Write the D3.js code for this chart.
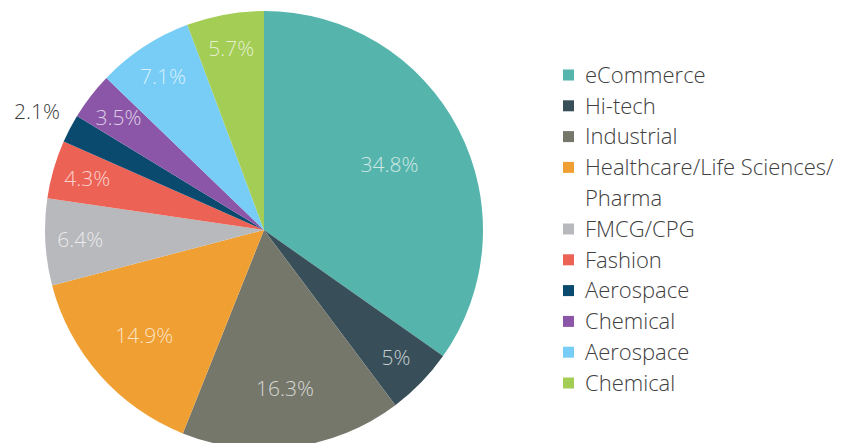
<!DOCTYPE html>
<html>
<head>
<meta charset="utf-8">
<script src="https://cdn.jsdelivr.net/npm/d3@7"></script>
<style>
  body { margin: 0; background: #fff; }
  text { font-family: "Open Sans", "Noto Sans", sans-serif; font-weight: 300; }
</style>
</head>
<body>
<svg id="chart"></svg>
<script>
// chart data
const categories = ['eCommerce', 'Hi-tech', 'Industrial', 'Healthcare/Life Sciences/Pharma', 'FMCG/CPG',
    'Fashion', 'Aerospace', 'Chemical', 'Aerospace', 'Chemical']
const shares = [34.8, 5, 16.3, 14.9, 6.4, 4.3, 2.1, 3.5, 7.1, 5.7]
const valueLabels = ['34.8%', '5%', '16.3%', '14.9%', '6.4%', '4.3%', '2.1%', '3.5%', '7.1%', '5.7%']
const colors = ['#55b4ac', '#384f59', '#75776b', '#f0a032', '#b8b9bd',
    '#ec6254', '#0b4a6f', '#8b56a8', '#77cdf6', '#a4cd56']

const width = 846
const height = 443
const cx = 264, cy = 230, radius = 219

const svg = d3.select('#chart')
    .attr('width', width)
    .attr('height', height)

const rows = shares.map((v, i) => ({ i: i, value: v, name: categories[i], label: valueLabels[i] }))

const pie = d3.pie().value(d => d.value).sort(null)
const arc = d3.arc().innerRadius(0).outerRadius(radius)
const arcs = pie(rows)

const g = svg.append('g').attr('transform', `translate(${cx},${cy})`)

g.selectAll('path.slice')
    .data(arcs)
    .enter().append('path')
    .attr('class', 'slice')
    .attr('d', arc)
    .attr('fill', d => colors[d.data.i])

// labels: bigger slices get them nearer the centre, thin ones go outside
function labelPos(d) {
    const pct = d.data.value
    let k = 0.84
    if (pct > 10) k = 0.73
    if (pct > 30) k = 0.645
    if (pct < 3) k = 1.17
    const a = (d.startAngle + d.endAngle) / 2
    return [Math.sin(a) * radius * k, -Math.cos(a) * radius * k]
}

g.selectAll('text.val')
    .data(arcs)
    .enter().append('text')
    .attr('class', 'val')
    .attr('transform', d => 'translate(' + labelPos(d) + ')')
    .attr('text-anchor', 'middle')
    .attr('dy', '0.35em')
    .style('font-size', '21px')
    .style('fill', d => d.data.value < 3 ? '#3a3a3a' : '#ffffff')
    .style('fill-opacity', d => d.data.value < 3 ? 1 : 0.72)
    .text(d => d.data.label)

// LEGEND
const legend = svg.append('g').attr('class', 'legend')
const lx = 563, ly0 = 75, lineH = 30.8, maxW = 262
let line = 0

rows.forEach(r => {
    const y = ly0 + line * lineH
    legend.append('rect')
        .attr('x', lx)
        .attr('y', y - 5.5)
        .attr('width', 11)
        .attr('height', 11)
        .attr('fill', colors[r.i])

    const t = legend.append('text')
        .attr('x', lx + 22)
        .attr('y', y)
        .attr('dy', '0.35em')
        .style('font-size', '22px')
        .style('fill', '#404040')

    // simple word wrap at spaces and slashes
    const tokens = r.name.split(/(?<=[\/ ])/)
    let cur = ''
    let span = t.append('tspan').attr('x', lx + 22)
    tokens.forEach(tok => {
        const test = cur + tok
        span.text(test)
        if (span.node().getComputedTextLength() > maxW && cur !== '') {
            span.text(cur)
            line++
            span = t.append('tspan').attr('x', lx + 22).attr('dy', lineH).text(tok)
            cur = tok
        } else {
            cur = test
        }
    })
    line++
})
</script>
</body>
</html>
